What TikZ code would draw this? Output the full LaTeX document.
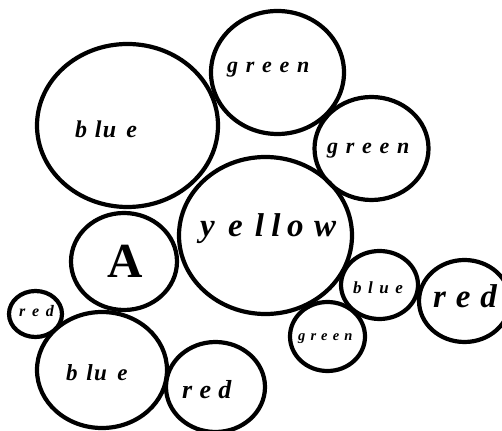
\documentclass[tikz,border=0pt]{standalone}
\usepackage{fontspec}
\setmainfont{Liberation Serif}
\newcommand\fs[1]{\fontsize{#1}{#1}\selectfont\bfseries\itshape}
\begin{document}
\begin{tikzpicture}[x=1pt,y=1pt,
  bubble/.style={draw=black,line width=4.2pt},
  lab/.style={inner sep=0pt,anchor=base west}]
\useasboundingbox (0,0) rectangle (502,430);
% bubbles
\coordinate (cBigBlue) at (127.5,304.5);
\coordinate (cGreenTop) at (277.5,357.5);
\coordinate (cGreenRight) at (371.5,281.5);
\coordinate (cYellow) at (265.5,194.5);
\coordinate (cA) at (124,168.5);
\coordinate (cRedL) at (35.5,116);
\coordinate (cBlueBL) at (102,60);
\coordinate (cRedB) at (215.5,43);
\coordinate (cBlueS) at (379.5,145);
\coordinate (cRedR) at (464.5,129);
\coordinate (cGreenS) at (327.5,93.5);
\draw[bubble] (cBigBlue) ellipse [x radius=90.5,y radius=81.5];
\draw[bubble] (cGreenTop) ellipse [x radius=66.5,y radius=61.5];
\draw[bubble] (cGreenRight) ellipse [x radius=57,y radius=51.5];
\draw[bubble] (cYellow) ellipse [x radius=86.5,y radius=78.5];
\draw[bubble] (cA) ellipse [x radius=53,y radius=48.5];
\draw[bubble] (cRedL) ellipse [x radius=26.5,y radius=23];
\draw[bubble] (cBlueBL) ellipse [x radius=65,y radius=58];
\draw[bubble] (cRedB) ellipse [x radius=49.5,y radius=45];
\draw[bubble] (cBlueS) ellipse [x radius=38.5,y radius=34];
\draw[bubble] (cRedR) ellipse [x radius=45.5,y radius=41];
\draw[bubble] (cGreenS) ellipse [x radius=37.5,y radius=34.5];
% labels
\node[lab] (tBigBlue) at (75,292) {\fs{24}b\kern.32em l\kern.06em u\kern.42em e};
\node[lab] (tGreenTop) at (227,357) {\fs{22}g\kern.35em r\kern.35em e\kern.35em e\kern.35em n};
\node[lab] (tGreenRight) at (327,276) {\fs{22}g\kern.35em r\kern.35em e\kern.35em e\kern.35em n};
\node[lab] (tYellow) at (200,193) {\fs{33}y\kern.4em e\kern.37em l\kern.22em l\kern.2em o\kern.32em w};
\node[inner sep=0pt,anchor=base] (tA) at (125,152) {\fontsize{49}{49}\selectfont\bfseries A};
\node[lab] (tRedL) at (19,113) {\fs{16}r\kern.42em e\kern.42em d};
\node[lab] (tBlueBL) at (66,49) {\fs{23}b\kern.38em l\kern.06em u\kern.45em e};
\node[lab] (tRedB) at (182,31) {\fs{26}r\kern.28em e\kern.28em d};
\node[lab] (tBlueS) at (353,136) {\fs{17}b\kern.38em l\kern.38em u\kern.38em e};
\node[lab] (tRedR) at (433,122) {\fs{33}r\kern.3em e\kern.3em d};
\node[lab] (tGreenS) at (298,89) {\fs{14.5}g\kern.35em r\kern.35em e\kern.35em e\kern.35em n};
\end{tikzpicture}
\end{document}
